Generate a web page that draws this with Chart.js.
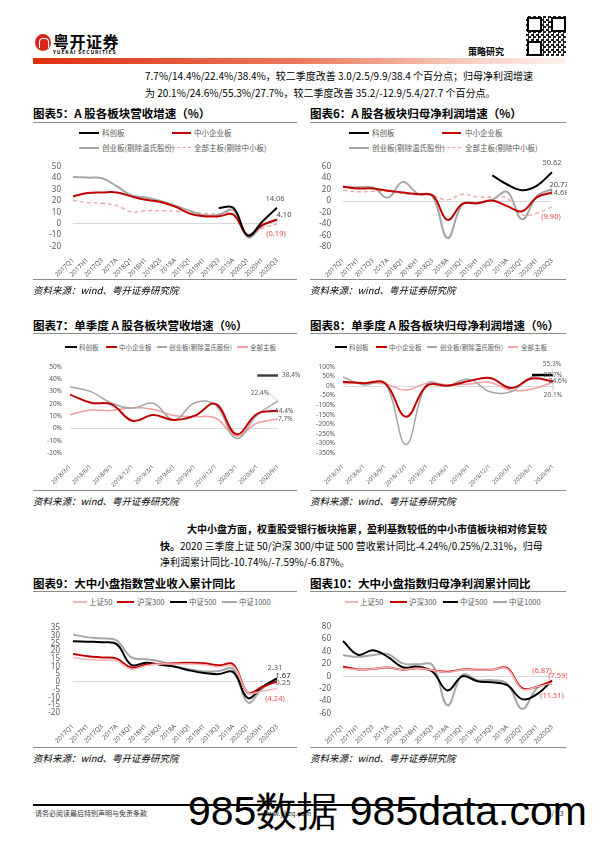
<!DOCTYPE html>
<html>
<head>
<meta charset="utf-8">
<script src="https://cdn.jsdelivr.net/npm/chart.js@4.4.0/dist/chart.umd.min.js"></script>
<style>
body{margin:0;width:596px;height:843px;position:relative;background:#fff;overflow:hidden;
  font-family:"Noto Sans CJK SC","Noto Sans",sans-serif;color:#000}
.abs{position:absolute;white-space:nowrap}
.title{font-size:11.5px;font-weight:bold;line-height:14px}
.rule{position:absolute;height:1px;background:#8c8c8c}
.src{font-size:9.5px;font-style:italic;line-height:12px;color:#000}
.para{font-size:10px;line-height:13px}
.lg{position:absolute;font-size:7.5px;color:#595959;line-height:10px;white-space:nowrap}
.key{position:absolute;height:2px}
canvas{position:absolute}
</style>
</head>
<body>

<!-- header -->
<div class="abs" style="left:35px;top:34px;width:16px;height:17px;border-radius:50%;background:#d9261c"></div>
<div class="abs" style="left:39px;top:38px;width:8px;height:9px;border:1.5px solid #fff;border-bottom:none;border-radius:4px 4px 0 0"></div>
<div class="abs" style="left:53px;top:32px;font-size:16px;font-weight:bold;line-height:18px;letter-spacing:0.5px">粤开证券</div>
<div class="abs" style="left:53px;top:49px;font-size:5px;font-weight:bold;line-height:6px;letter-spacing:0.9px">YUEKAI SECURITIES</div>
<div class="abs" style="left:468px;top:46px;font-size:9px;font-weight:bold;line-height:12px">策略研究</div>
<div class="abs" style="left:526px;top:16px;width:40px;height:40px;background:
  repeating-conic-gradient(#222 0 25%, #fff 0 50%) 0 0/5px 5px"></div>
<div class="abs" style="left:527px;top:17px;width:11px;height:11px;border:2px solid #000;background:#fff"></div>
<div class="abs" style="left:551px;top:17px;width:11px;height:11px;border:2px solid #000;background:#fff"></div>
<div class="abs" style="left:527px;top:41px;width:11px;height:11px;border:2px solid #000;background:#fff"></div>
<div class="abs" style="left:33px;top:58px;width:532px;height:6px;background:linear-gradient(90deg,#df2e12 0%,#ea7a5c 50%,#f8d6cb 85%,#fdf0ec 100%)"></div>

<div class="abs para" style="left:145px;top:69px">7.7%/14.4%/22.4%/38.4%，较二季度改善 3.0/2.5/9.9/38.4 个百分点；归母净利润增速</div>
<div class="abs para" style="left:145px;top:86px">为 20.1%/24.6%/55.3%/27.7%，较二季度改善 35.2/-12.9/5.4/27.7 个百分点。</div>

<!-- chart 5 / 6 headers -->
<div class="abs title" style="left:33px;top:106px">图表5：A 股各板块营收增速（%）</div>
<div class="rule" style="left:33px;top:122px;width:264px"></div>
<div class="abs title" style="left:310px;top:106px">图表6：A 股各板块归母净利润增速（%）</div>
<div class="rule" style="left:310px;top:122px;width:256px"></div>

<div class="key" style="left:79px;top:132px;width:20px;background:#000"></div><div class="lg" style="left:102px;top:128px">科创板</div>
<div class="key" style="left:172px;top:132px;width:19px;background:#c00000"></div><div class="lg" style="left:194px;top:128px">中小企业板</div>
<div class="key" style="left:79px;top:147px;width:20px;background:#a6a6a6"></div><div class="lg" style="left:102px;top:143px">创业板(剔除温氏股份)</div>
<div class="key" style="left:172px;top:147px;width:19px;height:0;border-top:1.5px dashed #f19c9c"></div><div class="lg" style="left:194px;top:143px">全部主板(剔除中小板)</div>

<div class="key" style="left:349px;top:132px;width:20px;background:#000"></div><div class="lg" style="left:372px;top:128px">科创板</div>
<div class="key" style="left:442px;top:132px;width:19px;background:#c00000"></div><div class="lg" style="left:465px;top:128px">中小企业板</div>
<div class="key" style="left:349px;top:147px;width:20px;background:#a6a6a6"></div><div class="lg" style="left:372px;top:143px">创业板(剔除温氏股份)</div>
<div class="key" style="left:442px;top:147px;width:19px;height:0;border-top:1.5px dashed #f19c9c"></div><div class="lg" style="left:465px;top:143px">全部主板(剔除中小板)</div>

<canvas id="c5" width="267" height="130" style="left:33px;top:150px"></canvas>
<canvas id="c6" width="262" height="130" style="left:305px;top:150px"></canvas>

<div class="rule" style="left:33px;top:279px;width:264px"></div>
<div class="abs src" style="left:33px;top:284px">资料来源：wind、粤开证券研究院</div>
<div class="rule" style="left:310px;top:279px;width:256px"></div>
<div class="abs src" style="left:310px;top:284px">资料来源：wind、粤开证券研究院</div>

<!-- chart 7 / 8 headers -->
<div class="abs title" style="left:33px;top:318px">图表7：单季度 A 股各板块营收增速（%）</div>
<div class="rule" style="left:33px;top:333px;width:264px"></div>
<div class="abs title" style="left:310px;top:318px">图表8：单季度 A 股各板块归母净利润增速（%）</div>
<div class="rule" style="left:310px;top:333px;width:256px"></div>

<div class="key" style="left:65px;top:346px;width:12px;background:#000"></div><div class="lg" style="left:79px;top:342px;font-size:6.5px">科创板</div>
<div class="key" style="left:106px;top:346px;width:11px;background:#c00000"></div><div class="lg" style="left:119px;top:342px;font-size:6.5px">中小企业板</div>
<div class="key" style="left:157px;top:346px;width:10px;height:1.5px;background:#a6a6a6"></div><div class="lg" style="left:169px;top:342px;font-size:6.5px">创业板(剔除温氏股份)</div>
<div class="key" style="left:237px;top:346px;width:11px;height:1.5px;background:#f0a0a0"></div><div class="lg" style="left:250px;top:342px;font-size:6.5px">全部主板</div>

<div class="key" style="left:335px;top:346px;width:12px;background:#000"></div><div class="lg" style="left:349px;top:342px;font-size:6.5px">科创板</div>
<div class="key" style="left:376px;top:346px;width:11px;background:#c00000"></div><div class="lg" style="left:389px;top:342px;font-size:6.5px">中小企业板</div>
<div class="key" style="left:427px;top:346px;width:10px;height:1.5px;background:#a6a6a6"></div><div class="lg" style="left:440px;top:342px;font-size:6.5px">创业板(剔除温氏股份)</div>
<div class="key" style="left:508px;top:346px;width:10px;height:1.5px;background:#f0a0a0"></div><div class="lg" style="left:521px;top:342px;font-size:6.5px">全部主板</div>

<canvas id="c7" width="267" height="133" style="left:33px;top:355px"></canvas>
<canvas id="c8" width="262" height="133" style="left:305px;top:355px"></canvas>

<div class="rule" style="left:33px;top:490px;width:264px"></div>
<div class="abs src" style="left:33px;top:495px">资料来源：wind、粤开证券研究院</div>
<div class="rule" style="left:310px;top:490px;width:256px"></div>
<div class="abs src" style="left:310px;top:495px">资料来源：wind、粤开证券研究院</div>

<!-- paragraph -->
<div class="abs para" style="left:187px;top:522px;font-weight:bold">大中小盘方面，权重股受银行板块拖累，盈利基数较低的中小市值板块相对修复较</div>
<div class="abs para" style="left:160px;top:539px"><b>快。</b>2020 三季度上证 50/沪深 300/中证 500 营收累计同比-4.24%/0.25%/2.31%，归母</div>
<div class="abs para" style="left:160px;top:555px">净利润累计同比-10.74%/-7.59%/-6.87%。</div>

<!-- chart 9 / 10 headers -->
<div class="abs title" style="left:33px;top:576px">图表9：大中小盘指数营业收入累计同比</div>
<div class="rule" style="left:33px;top:591px;width:264px"></div>
<div class="abs title" style="left:310px;top:576px">图表10：大中小盘指数归母净利润累计同比</div>
<div class="rule" style="left:310px;top:591px;width:256px"></div>

<div class="key" style="left:73px;top:601px;width:14px;background:#f4b4b4"></div><div class="lg" style="left:89px;top:597px">上证50</div>
<div class="key" style="left:117px;top:601px;width:17px;background:#c00000"></div><div class="lg" style="left:137px;top:597px">沪深300</div>
<div class="key" style="left:170px;top:601px;width:17px;background:#000"></div><div class="lg" style="left:189px;top:597px">中证500</div>
<div class="key" style="left:222px;top:601px;width:15px;background:#a6a6a6"></div><div class="lg" style="left:239px;top:597px">中证1000</div>

<div class="key" style="left:345px;top:601px;width:13px;background:#f4b4b4"></div><div class="lg" style="left:360px;top:597px">上证50</div>
<div class="key" style="left:390px;top:601px;width:17px;background:#c00000"></div><div class="lg" style="left:409px;top:597px">沪深300</div>
<div class="key" style="left:443px;top:601px;width:15px;background:#000"></div><div class="lg" style="left:460px;top:597px">中证500</div>
<div class="key" style="left:493px;top:601px;width:14px;background:#a6a6a6"></div><div class="lg" style="left:509px;top:597px">中证1000</div>

<canvas id="c9" width="267" height="135" style="left:33px;top:610px"></canvas>
<canvas id="c10" width="262" height="135" style="left:305px;top:610px"></canvas>

<div class="rule" style="left:33px;top:747px;width:264px"></div>
<div class="abs src" style="left:33px;top:752px">资料来源：wind、粤开证券研究院</div>
<div class="rule" style="left:310px;top:747px;width:256px"></div>
<div class="abs src" style="left:310px;top:752px">资料来源：wind、粤开证券研究院</div>

<!-- footer -->
<div class="rule" style="left:33px;top:804px;width:532px;height:1.5px;background:#000"></div>
<div class="abs" style="left:35px;top:809px;font-size:7px;line-height:9px;color:#333">请务必阅读最后特别声明与免责条款</div>
<div class="abs" style="left:262px;top:809px;font-size:7px;line-height:9px;color:#333">www.ykzq.com</div>
<div class="abs" style="left:546px;top:809px;font-size:7px;line-height:9px;color:#333">7 / 23</div>
<div class="abs" style="left:188px;top:788px;font-family:'Liberation Sans',sans-serif;font-size:41px;line-height:46px;color:#000">985数据 985data.com</div>

<script>
// categories
const quarterLabels = ['2017Q1','2017H1','2017Q3','2017A','2018Q1','2018H1','2018Q3','2018A','2019Q1','2019H1','2019Q3','2019A','2020Q1','2020H1','2020Q3'];
const monthLabels = ['2018/3/1','2018/6/1','2018/9/1','2018/12/1','2019/3/1','2019/6/1','2019/9/1','2019/12/1','2020/3/1','2020/6/1','2020/9/1'];

// 图表5 营收累计增速
const revKcb = [null,null,null,null,null,null,null,null,null,null,13.8,14,-10.5,2,14.06];
const revZxb = [24,27,27.5,27.5,24,21,19,15,9,6.5,6.5,8,-10,-1,3.5];
const revCyb = [41,40.5,40,33,25,23,20,16,11.5,7.5,8,12,-12,-2,4.1];
const revZb  = [20.5,18.5,18,16,10.5,11.5,11.5,11,10.5,9,8.5,8.5,-10,-4,-0.19];

// 图表6 归母净利润累计增速
const profKcb = [null,null,null,null,null,null,null,null,null,null,45,29,19,27,50.62];
const profZxb = [25,22,22,18,15,12,10,-33,-5,-4,1,-9,-18,7,14.68];
const profCyb = [25,24,24,6,33.6,13,8,-65,-6,-3,2,16,-32,9,20.77];
const profZb  = [19,16,17,17,13,11,9,2,12,7,7,5,-24,-21,-9.9];

// 图表7 单季度营收增速
const sqRevKcb = [null,null,null,null,null,null,null,null,null,43,43];
const sqRevZxb = [27.5,21,19.6,6.3,11,7,10.5,20,-4.5,12,14.4];
const sqRevCyb = [34,30,20.6,16.5,20.5,7,21,19,-8,11,22.4];
const sqRevZb  = [11.3,15,14.6,17,15.6,10.6,9.6,8.6,-6,4.5,7.7];

// 图表8 单季度归母净利润增速
const sqProfKcb = [null,null,null,null,null,null,null,null,null,58,58];
const sqProfZxb = [23,15,15,-160,2,2,26,42,-10,39,24.6];
const sqProfCyb = [47,6,15,-305,11,3,36,-30,-30,49,55.3];
const sqProfZb  = [13,16,11,-21,15,6,11,19,-23,-16,20.1];

// 图表9 指数营收累计同比
const idxRevSz50   = [15.8,14.5,14,13.4,8.2,10.5,11.6,11.5,11.6,11,9.7,10,-7,-6,-4.24];
const idxRevHs300  = [18,16.6,15.8,15,9.2,11,11.6,12,12.4,12,10.7,11.3,-7,-3.2,0.25];
const idxRevZz500  = [26.3,26,25.7,24.4,11,12.4,11,9.7,7.4,5.7,5,6.3,-10.5,-3.2,2.31];
const idxRevZz1000 = [30.7,28.8,28.2,26.7,15.8,14.7,13.2,10,8.2,6.7,7,8.2,-13.4,-4.4,1.67];

// 图表10 指数归母净利润累计同比
const idxProfSz50   = [13,10.6,12,14,10.6,13,9.7,6.3,10.6,10,10.6,12,-20.8,-17,-10.74];
const idxProfHs300  = [15.5,11,12,14,10.6,13,9.7,7.2,11,10.6,10.6,13,-19.3,-17,-7.59];
const idxProfZz500  = [57,34.8,42,31.4,14.5,15.5,7.2,-23,0,-8.2,-9.7,-14.5,-37,-29,-6.87];
const idxProfZz1000 = [34,31.4,34,36,20.8,19.3,17.9,-47,2.4,-6.3,-6.3,-12,-53,-19.3,-11.51];

const RED = '#c00000', GRAY = '#a6a6a6', PINK = '#f0a0a0', LABEL_RED = '#ee4b4b';

// end-of-line value labels
const endLabels = {
  id: 'endLabels',
  afterDatasetsDraw(chart, args, opts) {
    const ctx = chart.ctx;
    ctx.save();
    ctx.font = (opts.size || 7.5) + 'px "Noto Sans", sans-serif';
    ctx.textBaseline = 'middle';
    (opts.items || []).forEach(it => {
      const pts = chart.getDatasetMeta(it.ds).data;
      const p = pts[pts.length - 1];
      const x = p.x + it.dx, y = p.y + it.dy;
      ctx.fillStyle = it.color || '#595959';
      ctx.textAlign = it.align || 'center';
      ctx.fillText(it.text, x, y);
      if (it.leader) {
        ctx.strokeStyle = '#bfbfbf';
        ctx.lineWidth = 0.8;
        ctx.beginPath();
        ctx.moveTo(x + it.leader[0], y + it.leader[1]);
        ctx.lineTo(p.x, p.y);
        ctx.stroke();
      }
    });
    ctx.restore();
  }
};

function line(label, data, color, width, dash) {
  return { label, data, borderColor: color, borderWidth: width, borderDash: dash || [],
           tension: 0.4, pointRadius: 0, fill: false, spanGaps: false };
}

function buildChart(id, labels, datasets, g) {
  new Chart(document.getElementById(id), {
    type: 'line',
    data: { labels, datasets },
    plugins: [endLabels],
    options: {
      responsive: false,
      animation: false,
      layout: { padding: { top: g.padTop, right: g.padRight, left: 0, bottom: 0 } },
      plugins: {
        legend: { display: false },
        tooltip: { enabled: false },
        endLabels: { items: g.labels, size: g.labelSize }
      },
      scales: {
        x: {
          grid: { display: false },
          border: { display: false },
          ticks: { autoSkip: false, minRotation: 45, maxRotation: 45, padding: 2,
                   color: '#595959', font: { size: g.xFont, family: 'Noto Sans' } },
          afterFit: s => { s.height = g.xHeight; }
        },
        y: {
          min: g.min, max: g.max,
          border: { display: false },
          grid: { drawTicks: false, lineWidth: 1,
                  color: c => c.tick.value === 0 ? '#d9d9d9' : 'rgba(0,0,0,0)' },
          ticks: { stepSize: g.step, autoSkip: false, maxTicksLimit: 30, padding: g.yPad,
                   color: '#595959', font: { size: g.yFont, family: 'Noto Sans' },
                   callback: v => g.pct ? v + '%' : v },
          afterFit: s => { s.width = g.yWidth; }
        }
      }
    }
  });
}

buildChart('c5', quarterLabels, [
  line('科创板', revKcb, '#000', 2),
  line('中小企业板', revZxb, RED, 2),
  line('创业板(剔除温氏股份)', revCyb, GRAY, 2),
  line('全部主板(剔除中小板)', revZb, PINK, 1.3, [4, 3])
], { padTop: 12, padRight: 23, yWidth: 40, xHeight: 33.5, min: -20, max: 50, step: 10, yPad: 12,
     xFont: 6.5, yFont: 8, labelSize: 7.5,
     labels: [
       { ds: 0, text: '14.06', dx: -2, dy: -9 },
       { ds: 2, text: '4.10', dx: 7, dy: -4, color: '#404040' },
       { ds: 3, text: '(0.19)', dx: -1, dy: 10, color: LABEL_RED }
     ] });

buildChart('c6', quarterLabels, [
  line('科创板', profKcb, '#000', 2),
  line('中小企业板', profZxb, RED, 2),
  line('创业板(剔除温氏股份)', profCyb, GRAY, 2),
  line('全部主板(剔除中小板)', profZb, PINK, 1.3, [4, 3])
], { padTop: 12, padRight: 15, yWidth: 38, xHeight: 33.3, min: -80, max: 60, step: 20, yPad: 12,
     xFont: 6.5, yFont: 8, labelSize: 7.5,
     labels: [
       { ds: 0, text: '50.62', dx: 0, dy: -9 },
       { ds: 2, text: '20.77', dx: 7, dy: -4, color: '#404040' },
       { ds: 1, text: '14.68', dx: 7, dy: 0 },
       { ds: 3, text: '(9.90)', dx: -1, dy: 10, color: LABEL_RED }
     ] });

buildChart('c7', monthLabels, [
  line('科创板', sqRevKcb, '#404040', 2.5),
  line('中小企业板', sqRevZxb, RED, 2),
  line('创业板(剔除温氏股份)', sqRevCyb, GRAY, 1.5),
  line('全部主板', sqRevZb, PINK, 1.5)
], { padTop: 6, padRight: 22, yWidth: 37, xHeight: 34.7, min: -20, max: 50, step: 10, yPad: 8, pct: true,
     xFont: 6, yFont: 6.5, labelSize: 6.5,
     labels: [
       { ds: 0, text: '38.4%', dx: 4, dy: 0, align: 'left' },
       { ds: 2, text: '22.4%', dx: -18, dy: -8, leader: [9, 0] },
       { ds: 1, text: '14.4%', dx: -3, dy: 0, align: 'left' },
       { ds: 3, text: '7.7%', dx: 0, dy: 0, align: 'left' }
     ] });

buildChart('c8', monthLabels, [
  line('科创板', sqProfKcb, '#000', 2.5),
  line('中小企业板', sqProfZxb, RED, 2),
  line('创业板(剔除温氏股份)', sqProfCyb, GRAY, 1.5),
  line('全部主板', sqProfZb, PINK, 1.5)
], { padTop: 6, padRight: 14, yWidth: 38, xHeight: 35, min: -350, max: 100, step: 50, yPad: 8, pct: true,
     xFont: 6, yFont: 6.5, labelSize: 6.5,
     labels: [
       { ds: 2, text: '55.3%', dx: -1, dy: -11, leader: [0, 4] },
       { ds: 0, text: '27.7%', dx: 0, dy: 0 },
       { ds: 1, text: '24.6%', dx: 5, dy: 0 },
       { ds: 3, text: '20.1%', dx: 0, dy: 13, leader: [0, -4] }
     ] });

buildChart('c9', quarterLabels, [
  line('上证50', idxRevSz50, '#f4b4b4', 1.5),
  line('沪深300', idxRevHs300, RED, 2),
  line('中证500', idxRevZz500, '#000', 2),
  line('中证1000', idxRevZz1000, GRAY, 2)
], { padTop: 6.7, padRight: 23, yWidth: 40, xHeight: 32.3, min: -20, max: 35, step: 5, yPad: 13,
     xFont: 6.5, yFont: 8, labelSize: 7.5,
     labels: [
       { ds: 2, text: '2.31', dx: -2, dy: -10 },
       { ds: 3, text: '1.67', dx: 6, dy: -3, color: '#262626' },
       { ds: 1, text: '0.25', dx: 6, dy: 1 },
       { ds: 0, text: '(4.24)', dx: -2, dy: 10, color: LABEL_RED }
     ] });

buildChart('c10', quarterLabels, [
  line('上证50', idxProfSz50, '#f4b4b4', 1.5),
  line('沪深300', idxProfHs300, RED, 2),
  line('中证500', idxProfZz500, '#000', 2),
  line('中证1000', idxProfZz1000, GRAY, 2)
], { padTop: 6.7, padRight: 15, yWidth: 38, xHeight: 31.7, min: -60, max: 80, step: 20, yPad: 12,
     xFont: 6.5, yFont: 8, labelSize: 7.5,
     labels: [
       { ds: 2, text: '(6.87)', dx: -10, dy: -10, color: LABEL_RED },
       { ds: 1, text: '(7.59)', dx: 6, dy: -5, color: LABEL_RED },
       { ds: 3, text: '(11.51)', dx: 0, dy: 13, color: LABEL_RED }
     ] });
</script>
</body>
</html>
